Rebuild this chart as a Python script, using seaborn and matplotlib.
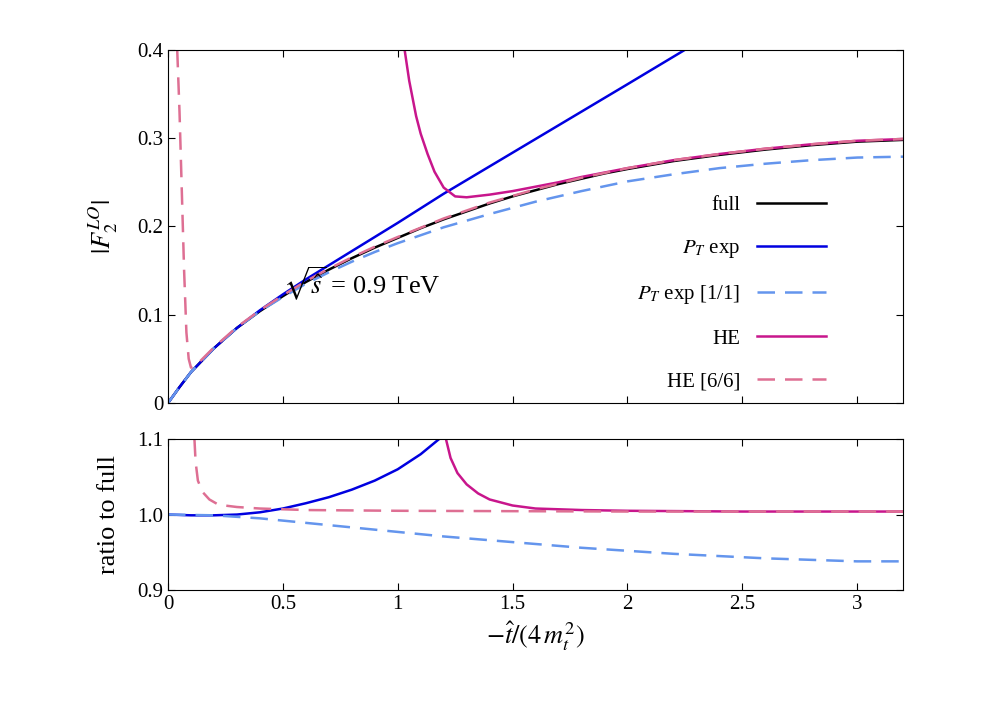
import numpy as np
import pandas as pd
import seaborn as sns
import matplotlib
matplotlib.use("Agg")
import matplotlib.pyplot as plt

plt.rcParams["font.family"] = "Liberation Serif"
plt.rcParams["mathtext.fontset"] = "stix"

# ---- data ----
x_full = [0, 0.05, 0.1, 0.2, 0.3, 0.4, 0.5, 0.6, 0.7, 0.8, 0.9, 1.0, 1.1, 1.2, 1.3, 1.4, 1.5, 1.6, 1.7, 1.8, 1.9, 2.0, 2.2, 2.4, 2.6, 2.8, 3.0, 3.2]
y_full = [0, 0.018, 0.035, 0.062, 0.085, 0.104, 0.121, 0.137, 0.151, 0.164, 0.176, 0.187, 0.198, 0.208, 0.217, 0.226, 0.234, 0.241, 0.248, 0.254, 0.260, 0.265, 0.274, 0.281, 0.287, 0.292, 0.296, 0.298]

x_pt = [0, 0.05, 0.1, 0.2, 0.3, 0.4, 0.5, 0.6, 0.7, 0.8, 0.9, 1.0, 1.2, 1.4, 1.6, 1.8, 2.0, 2.25]
y_pt = [0, 0.018, 0.035, 0.062, 0.085, 0.105, 0.123, 0.140, 0.156, 0.172, 0.188, 0.204, 0.237, 0.268, 0.299, 0.330, 0.361, 0.400]

x_pt11 = [0, 0.05, 0.1, 0.2, 0.3, 0.4, 0.5, 0.6, 0.7, 0.8, 0.9, 1.0, 1.2, 1.4, 1.6, 1.8, 2.0, 2.2, 2.4, 2.6, 2.8, 3.0, 3.2]
y_pt11 = [0, 0.018, 0.035, 0.062, 0.085, 0.104, 0.120, 0.135, 0.148, 0.160, 0.171, 0.181, 0.199, 0.214, 0.228, 0.240, 0.251, 0.259, 0.266, 0.271, 0.275, 0.278, 0.279]

x_he = [1.03, 1.05, 1.08, 1.1, 1.13, 1.16, 1.2, 1.25, 1.3, 1.4, 1.5, 1.6, 1.7, 1.8, 1.9, 2.0, 2.2, 2.4, 2.6, 2.8, 3.0, 3.2]
y_he = [0.400, 0.365, 0.325, 0.305, 0.282, 0.262, 0.244, 0.234, 0.233, 0.236, 0.240, 0.245, 0.250, 0.256, 0.261, 0.266, 0.275, 0.282, 0.288, 0.293, 0.297, 0.299]

x_he66 = [0.04, 0.05, 0.06, 0.07, 0.08, 0.09, 0.1, 0.12, 0.15, 0.2, 0.3, 0.4, 0.5, 0.6, 0.7, 0.8, 0.9, 1.0, 1.2, 1.4, 1.6, 1.8, 2.0, 2.2, 2.4, 2.6, 2.8, 3.0, 3.2]
y_he66 = [0.400, 0.330, 0.240, 0.150, 0.080, 0.050, 0.040, 0.042, 0.050, 0.063, 0.086, 0.105, 0.122, 0.138, 0.152, 0.165, 0.177, 0.188, 0.209, 0.227, 0.242, 0.255, 0.266, 0.275, 0.282, 0.288, 0.293, 0.297, 0.299]

# ratios
rx_pt = [0, 0.1, 0.2, 0.3, 0.4, 0.5, 0.6, 0.7, 0.8, 0.9, 1.0, 1.1, 1.18]
ry_pt = [1.0, 0.999, 0.999, 1.0, 1.003, 1.008, 1.015, 1.023, 1.033, 1.045, 1.06, 1.08, 1.10]
rx_pt11 = [0, 0.2, 0.4, 0.6, 0.8, 1.0, 1.2, 1.4, 1.6, 1.8, 2.0, 2.2, 2.4, 2.6, 2.8, 3.0, 3.2]
ry_pt11 = [1.0, 0.999, 0.995, 0.989, 0.983, 0.977, 0.971, 0.966, 0.961, 0.956, 0.952, 0.948, 0.945, 0.942, 0.940, 0.938, 0.938]
rx_he = [1.21, 1.23, 1.26, 1.3, 1.35, 1.4, 1.5, 1.6, 1.8, 2.0, 2.5, 3.0, 3.2]
ry_he = [1.10, 1.075, 1.055, 1.04, 1.028, 1.02, 1.012, 1.008, 1.006, 1.005, 1.004, 1.004, 1.004]
rx_he66 = [0.115, 0.12, 0.13, 0.15, 0.18, 0.22, 0.3, 0.4, 0.6, 1.0, 2.0, 3.2]
ry_he66 = [1.10, 1.07, 1.045, 1.03, 1.02, 1.013, 1.01, 1.008, 1.006, 1.005, 1.004, 1.004]

labels = ["full", r"$P_T$ exp", r"$P_T$ exp [1/1]", "HE", "HE [6/6]"]
colors = ["black", "#0000e0", "#6495ed", "#c8168c", "#de6f93"]
dashed = [False, False, True, False, True]

fig = plt.figure(figsize=(9.96, 7.12), dpi=100)
ax1 = fig.add_axes([0.1687, 0.434, 0.738, 0.496])
ax2 = fig.add_axes([0.1687, 0.1713, 0.738, 0.212])

top = [(x_full, y_full), (x_pt, y_pt), (x_pt11, y_pt11), (x_he, y_he), (x_he66, y_he66)]
for (xx, yy), lab, c, d in zip(top, labels, colors, dashed):
    df = pd.DataFrame({"x": xx, "y": yy})
    l = sns.lineplot(data=df, x="x", y="y", ax=ax1, color=c, lw=1.8, label=lab, estimator=None, sort=False)
    if d:
        l.lines[-1].set_dashes((7, 4))

bot = [(rx_pt, ry_pt, 1), (rx_pt11, ry_pt11, 2), (rx_he, ry_he, 3), (rx_he66, ry_he66, 4)]
for xx, yy, i in bot:
    df = pd.DataFrame({"x": xx, "y": yy})
    sns.lineplot(data=df, x="x", y="y", ax=ax2, color=colors[i], lw=1.8, estimator=None, sort=False)
    if dashed[i]:
        ax2.lines[-1].set_dashes((7, 4))

for ax in (ax1, ax2):
    ax.set_xlim(0, 3.2)
    ax.tick_params(direction="in", top=True, right=True, labelsize=15, length=5)
    ax.set_xticks([0, 0.5, 1, 1.5, 2, 2.5, 3])
    ax.set_xticklabels(["0", "0.5", "1", "1.5", "2", "2.5", "3"])
ax1.set_ylim(0, 0.4)
ax1.set_yticks([0, 0.1, 0.2, 0.3, 0.4])
ax1.set_yticklabels(["0", "0.1", "0.2", "0.3", "0.4"])
ax1.set_xticklabels([])
ax1.set_xlabel("")
ax1.set_ylabel(r"$|F_2^{LO}|$", fontsize=19, labelpad=12)
ax2.set_ylim(0.9, 1.1)
ax2.set_yticks([0.9, 1.0, 1.1])
ax2.set_yticklabels(["0.9", "1.0", "1.1"])
ax2.set_ylabel("ratio to full", fontsize=19, labelpad=12)
ax2.set_xlabel(r"$-\hat{t}/(4\,m_t^2)$", fontsize=19)

ax1.text(0.5, 0.135, r"$\sqrt{\hat{s}}$ = 0.9 TeV", fontsize=19, va="center", transform=ax1.transData)
ax1.legend(loc="upper right", bbox_to_anchor=(0.92, 0.64), frameon=False, markerfirst=False,
           fontsize=15, labelspacing=1.1, handlelength=3.3)

fig.savefig("out.png", dpi=100)
